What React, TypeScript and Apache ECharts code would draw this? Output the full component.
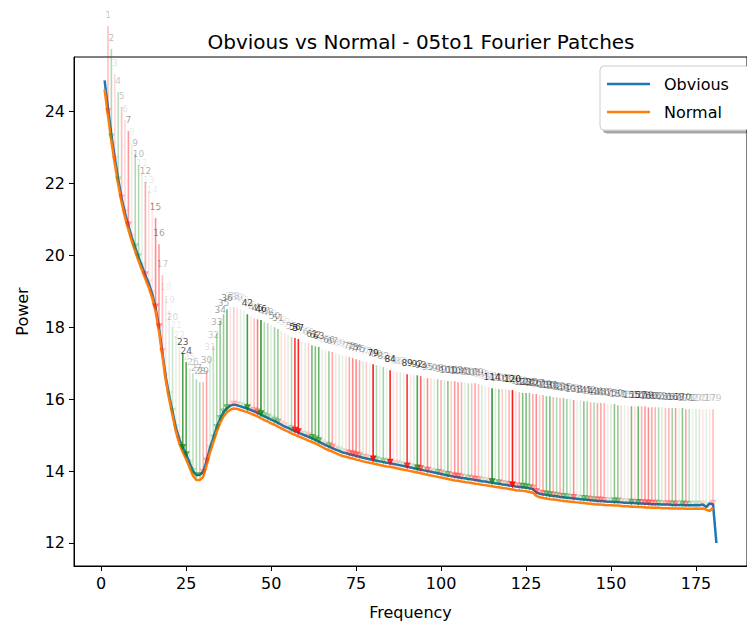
import React, { useEffect, useRef } from "react";
import * as echarts from "echarts";

const frequency = Array.from({ length: 181 }, (_, i) => i + 1);

const obvious = [
  24.87, 24.1, 23.35, 22.72, 22.12, 21.6, 21.18, 20.83, 20.5, 20.22,
  19.95, 19.7, 19.45, 19.22, 18.93, 18.55, 18.0, 17.3, 16.62, 16.1,
  15.65, 15.2, 14.88, 14.66, 14.46, 14.23, 14.0, 13.89, 13.9, 13.98,
  14.28, 14.64, 14.93, 15.22, 15.46, 15.64, 15.75, 15.82, 15.85, 15.83,
  15.8, 15.77, 15.74, 15.7, 15.66, 15.62, 15.57, 15.52, 15.48, 15.43,
  15.39, 15.34, 15.29, 15.24, 15.2, 15.15, 15.11, 15.07, 15.03, 14.99,
  14.95, 14.91, 14.87, 14.82, 14.77, 14.72, 14.68, 14.64, 14.6, 14.56,
  14.52, 14.5, 14.47, 14.45, 14.42, 14.4, 14.37, 14.35, 14.33, 14.31,
  14.29, 14.27, 14.25, 14.23, 14.22, 14.2, 14.18, 14.16, 14.14, 14.12,
  14.1, 14.08, 14.06, 14.04, 14.02, 14.0, 13.98, 13.96, 13.94, 13.92,
  13.9, 13.88, 13.86, 13.84, 13.83, 13.81, 13.8, 13.78, 13.77, 13.75,
  13.74, 13.72, 13.71, 13.69, 13.68, 13.66, 13.65, 13.63, 13.62, 13.6,
  13.59, 13.57, 13.56, 13.55, 13.54, 13.52, 13.5, 13.41, 13.37, 13.35,
  13.34, 13.32, 13.31, 13.3, 13.28, 13.27, 13.26, 13.25, 13.24, 13.23,
  13.22, 13.21, 13.2, 13.19, 13.18, 13.17, 13.17, 13.16, 13.15, 13.15,
  13.14, 13.14, 13.13, 13.12, 13.12, 13.11, 13.11, 13.1, 13.1, 13.09,
  13.09, 13.08, 13.08, 13.08, 13.07, 13.07, 13.07, 13.06, 13.06, 13.06,
  13.06, 13.05, 13.05, 13.05, 13.06, 13.05, 13.07, 13.0, 13.1, 13.08,
  12.0,
];

const normal = [
  24.62, 23.88, 23.17, 22.55, 21.97, 21.47, 21.06, 20.72, 20.39, 20.11,
  19.84, 19.59, 19.34, 19.11, 18.82, 18.44, 17.89, 17.2, 16.52, 16.0,
  15.54, 15.09, 14.76, 14.53, 14.33, 14.1, 13.87, 13.75, 13.75, 13.84,
  14.15, 14.51, 14.8, 15.09, 15.34, 15.52, 15.64, 15.71, 15.74, 15.73,
  15.7, 15.67, 15.64, 15.6, 15.56, 15.52, 15.47, 15.42, 15.38, 15.33,
  15.29, 15.24, 15.19, 15.14, 15.1, 15.05, 15.01, 14.97, 14.93, 14.89,
  14.85, 14.81, 14.77, 14.72, 14.67, 14.62, 14.58, 14.54, 14.5, 14.46,
  14.42, 14.4, 14.37, 14.35, 14.32, 14.3, 14.27, 14.25, 14.23, 14.21,
  14.19, 14.17, 14.15, 14.13, 14.12, 14.1, 14.08, 14.06, 14.04, 14.02,
  14.0, 13.98, 13.96, 13.94, 13.92, 13.9, 13.88, 13.86, 13.84, 13.82,
  13.8, 13.78, 13.76, 13.74, 13.73, 13.71, 13.7, 13.68, 13.67, 13.65,
  13.64, 13.62, 13.61, 13.59, 13.58, 13.56, 13.55, 13.53, 13.52, 13.5,
  13.49, 13.47, 13.46, 13.45, 13.44, 13.42, 13.4, 13.31, 13.27, 13.25,
  13.24, 13.22, 13.21, 13.2, 13.18, 13.17, 13.16, 13.15, 13.14, 13.13,
  13.12, 13.11, 13.1, 13.09, 13.08, 13.07, 13.07, 13.06, 13.05, 13.05,
  13.04, 13.04, 13.03, 13.02, 13.02, 13.01, 13.01, 13.0, 13.0, 12.99,
  12.99, 12.98, 12.98, 12.98, 12.97, 12.97, 12.97, 12.96, 12.96, 12.96,
  12.96, 12.95, 12.95, 12.95, 12.96, 12.95, 12.96, 12.93, 12.89, 12.98,
];

// patch index (label) of each arrow; it points at frequency index + 1
const arrowIds = Array.from({ length: 179 }, (_, i) => i + 1);

// height (in Power units) of each arrow's label
const arrowLabelLevel = [
  26.69, 26.05, 25.35, 24.85, 24.44, 24.07, 23.77, 23.43, 23.13, 22.82,
  22.57, 22.35, 22.1, 21.82, 21.35, 20.62, 19.76, 19.12, 18.76, 18.29,
  18.06, 17.78, 17.59, 17.34, 17.17, 17.03, 16.86, 16.78, 16.78, 17.09,
  17.45, 17.78, 18.14, 18.48, 18.67, 18.81, 18.87, 18.87, 18.84, 18.81,
  18.76, 18.67, 18.62, 18.56, 18.53, 18.51, 18.45, 18.42, 18.37, 18.31,
  18.26, 18.2, 18.15, 18.09, 18.03, 18.01, 17.98, 17.92, 17.89, 17.87,
  17.81, 17.78, 17.76, 17.7, 17.67, 17.64, 17.62, 17.59, 17.56, 17.53,
  17.5, 17.48, 17.45, 17.42, 17.39, 17.37, 17.34, 17.31, 17.28, 17.25,
  17.23, 17.2, 17.17, 17.11, 17.09, 17.06, 17.06, 17.03, 17.0, 17.0,
  16.97, 16.97, 16.95, 16.92, 16.89, 16.89, 16.86, 16.86, 16.84, 16.84,
  16.81, 16.81, 16.81, 16.78, 16.78, 16.78, 16.75, 16.75, 16.75, 16.73,
  16.7, 16.67, 16.64, 16.61, 16.61, 16.59, 16.59, 16.59, 16.56, 16.56,
  16.53, 16.5, 16.48, 16.48, 16.48, 16.45, 16.45, 16.42, 16.42, 16.39,
  16.39, 16.36, 16.36, 16.34, 16.34, 16.31, 16.31, 16.28, 16.28, 16.28,
  16.25, 16.25, 16.22, 16.22, 16.2, 16.2, 16.2, 16.17, 16.17, 16.17,
  16.14, 16.14, 16.14, 16.11, 16.11, 16.11, 16.11, 16.11, 16.11, 16.08,
  16.08, 16.08, 16.08, 16.08, 16.06, 16.06, 16.06, 16.06, 16.06, 16.06,
  16.03, 16.03, 16.03, 16.03, 16.03, 16.03, 16.03, 16.03, 16.03,
];

// r = red (worse), g = green (better)
const arrowColorCodes = (
  "rgrgrrrrgg" + "grrrrrrrgg" + "grggggggrr" + "ggggggrrrg" + "ggrrrggggg" +
  "grrggrrrgr" + "ggggrgrrgg" + "rrrrrgrgrg" + "gggrrrggrr" + "ggrgrrggrg" +
  "grrrrggrrr" + "ggrgggrgrr" + "rrgggrrrrg" + "grgrgggrgg" + "ggrgrrrrgg" +
  "grgrgrgrrr" + "rrggrrgrgg" + "rggggrgrr"
).split("");

const arrowAlpha = [
  0.25, 0.3, 0.15, 0.25, 0.25, 0.15, 0.4, 0.1, 0.3, 0.3,
  0.1, 0.35, 0.12, 0.1, 0.45, 0.4, 0.25, 0.1, 0.12, 0.2,
  0.1, 0.12, 0.7, 0.65, 0.15, 0.25, 0.3, 0.3, 0.3, 0.35,
  0.15, 0.25, 0.35, 0.4, 0.4, 0.55, 0.1, 0.2, 0.15, 0.12,
  0.1, 0.75, 0.1, 0.25, 0.5, 0.8, 0.3, 0.3, 0.12, 0.35,
  0.4, 0.12, 0.12, 0.1, 0.3, 0.8, 0.85, 0.1, 0.12, 0.2,
  0.55, 0.5, 0.6, 0.1, 0.12, 0.4, 0.35, 0.12, 0.15, 0.1,
  0.15, 0.35, 0.45, 0.45, 0.35, 0.15, 0.2, 0.1, 0.9, 0.3,
  0.1, 0.35, 0.1, 0.85, 0.1, 0.15, 0.15, 0.1, 0.8, 0.1,
  0.12, 0.7, 0.6, 0.1, 0.45, 0.15, 0.1, 0.35, 0.3, 0.15,
  0.45, 0.2, 0.4, 0.4, 0.3, 0.1, 0.25, 0.25, 0.35, 0.25,
  0.15, 0.1, 0.15, 0.8, 0.15, 0.4, 0.2, 0.15, 0.3, 0.9,
  0.15, 0.3, 0.5, 0.5, 0.4, 0.35, 0.45, 0.2, 0.35, 0.45,
  0.5, 0.3, 0.3, 0.3, 0.4, 0.35, 0.15, 0.45, 0.1, 0.15,
  0.45, 0.35, 0.3, 0.3, 0.35, 0.35, 0.3, 0.1, 0.15, 0.45,
  0.4, 0.15, 0.1, 0.1, 0.5, 0.15, 0.55, 0.3, 0.4, 0.45,
  0.35, 0.3, 0.3, 0.15, 0.25, 0.3, 0.35, 0.4, 0.1, 0.45,
  0.35, 0.25, 0.1, 0.15, 0.15, 0.1, 0.1, 0.1, 0.25,
];

const xTicks = [0, 25, 50, 75, 100, 125, 150, 175];
const yTicks = [12, 14, 16, 18, 20, 22, 24];

const FONT = '"DejaVu Sans", sans-serif';

export default function App() {
  const ref = useRef<HTMLDivElement>(null);

  useEffect(() => {
    if (!ref.current) return;
    const chart = echarts.init(ref.current, undefined, { renderer: "svg", width: 747, height: 626 });

    const arrowData = arrowIds.map((k, i) => {
      const f = k + 1;
      return [f, normal[f - 1], arrowLabelLevel[i]];
    });

    chart.setOption({
      animation: false,
      backgroundColor: "#fff",
      title: {
        text: "Obvious vs Normal - 05to1 Fourier Patches",
        left: 416,
        top: 27,
        textAlign: "center",
        textStyle: { fontFamily: FONT, fontSize: 20, fontWeight: "normal", color: "#000" },
      },
      legend: {
        left: 600,
        top: 66,
        orient: "vertical",
        icon: "rect",
        itemWidth: 43,
        itemHeight: 2.5,
        itemGap: 8,
        padding: [8, 20, 8, 7],
        backgroundColor: "#fff",
        borderColor: "#ccc",
        borderWidth: 1,
        borderRadius: 4,
        shadowColor: "rgba(0,0,0,0.35)",
        shadowOffsetX: 3,
        shadowOffsetY: 3,
        shadowBlur: 0,
        textStyle: { fontFamily: FONT, fontSize: 16, color: "#000", lineHeight: 20, padding: [0, 0, 0, 9] },
        data: ["Obvious", "Normal"],
      },
      grid: {
        left: 74,
        top: 57,
        width: 683,
        height: 509,
        show: true,
        borderColor: "#000",
        borderWidth: 1,
      },
      xAxis: {
        type: "value",
        min: -8,
        max: 190,
        name: "Frequency",
        nameLocation: "middle",
        nameGap: 38,
        nameTextStyle: { fontFamily: FONT, fontSize: 16, color: "#000" },
        axisLine: { show: true, onZero: false, lineStyle: { color: "#000", width: 1 } },
        axisTick: { show: true, length: 5, lineStyle: { color: "#000" }, customValues: xTicks },
        axisLabel: { fontFamily: FONT, fontSize: 16, color: "#000", margin: 9, customValues: xTicks },
        splitLine: { show: false },
      },
      yAxis: {
        type: "value",
        min: 11.36,
        max: 25.52,
        name: "Power",
        nameLocation: "middle",
        nameGap: 44,
        nameTextStyle: { fontFamily: FONT, fontSize: 16, color: "#000" },
        axisLine: { show: true, onZero: false, lineStyle: { color: "#000", width: 1 } },
        axisTick: { show: true, length: 5, lineStyle: { color: "#000" }, customValues: yTicks },
        axisLabel: { fontFamily: FONT, fontSize: 16, color: "#000", margin: 9, customValues: yTicks },
        splitLine: { show: false },
      },
      series: [
        {
          name: "Obvious",
          type: "line",
          data: frequency.map((f, i) => [f, obvious[i]]),
          showSymbol: false,
          symbol: "none",
          lineStyle: { color: "#1f77b4", width: 2.5 },
          itemStyle: { color: "#1f77b4" },
          z: 2,
        },
        {
          name: "Normal",
          type: "line",
          data: normal.map((v, i) => [frequency[i], v]),
          showSymbol: false,
          symbol: "none",
          lineStyle: { color: "#ff7f0e", width: 2.5 },
          itemStyle: { color: "#ff7f0e" },
          z: 3,
        },
        {
          type: "custom",
          clip: false,
          z: 4,
          silent: true,
          data: arrowData,
          renderItem: (params: any, api: any) => {
            const i = params.dataIndex;
            const x = api.value(0);
            const tip = api.value(1);
            const lab = api.value(2);
            const pLab = api.coord([x, lab]);
            const pTip = api.coord([x, tip]);
            const a = arrowAlpha[i];
            const col = arrowColorCodes[i] === "r" ? `rgba(255,0,0,${a})` : `rgba(0,128,0,${a})`;
            const tx = pTip[0];
            const ty = pTip[1] - 1;
            return {
              type: "group",
              children: [
                {
                  type: "line",
                  shape: { x1: pLab[0], y1: pLab[1] + 11, x2: tx, y2: ty - 6 },
                  style: { stroke: col, lineWidth: 1.6 },
                },
                {
                  type: "polygon",
                  shape: { points: [[tx - 3.5, ty - 7], [tx + 3.5, ty - 7], [tx, ty]] },
                  style: { fill: col },
                },
                {
                  type: "text",
                  x: pLab[0],
                  y: pLab[1],
                  style: {
                    text: String(arrowIds[i]),
                    fill: `rgba(0,0,0,${a})`,
                    fontSize: 9,
                    fontFamily: FONT,
                    align: "center",
                    verticalAlign: "middle",
                  },
                },
              ],
            };
          },
        },
      ],
    });

    return () => chart.dispose();
  }, []);

  return (
    <div
      ref={ref}
      style={{ position: "absolute", left: 0, top: 0, width: 747, height: 626, overflow: "hidden", background: "#fff" }}
    />
  );
}
